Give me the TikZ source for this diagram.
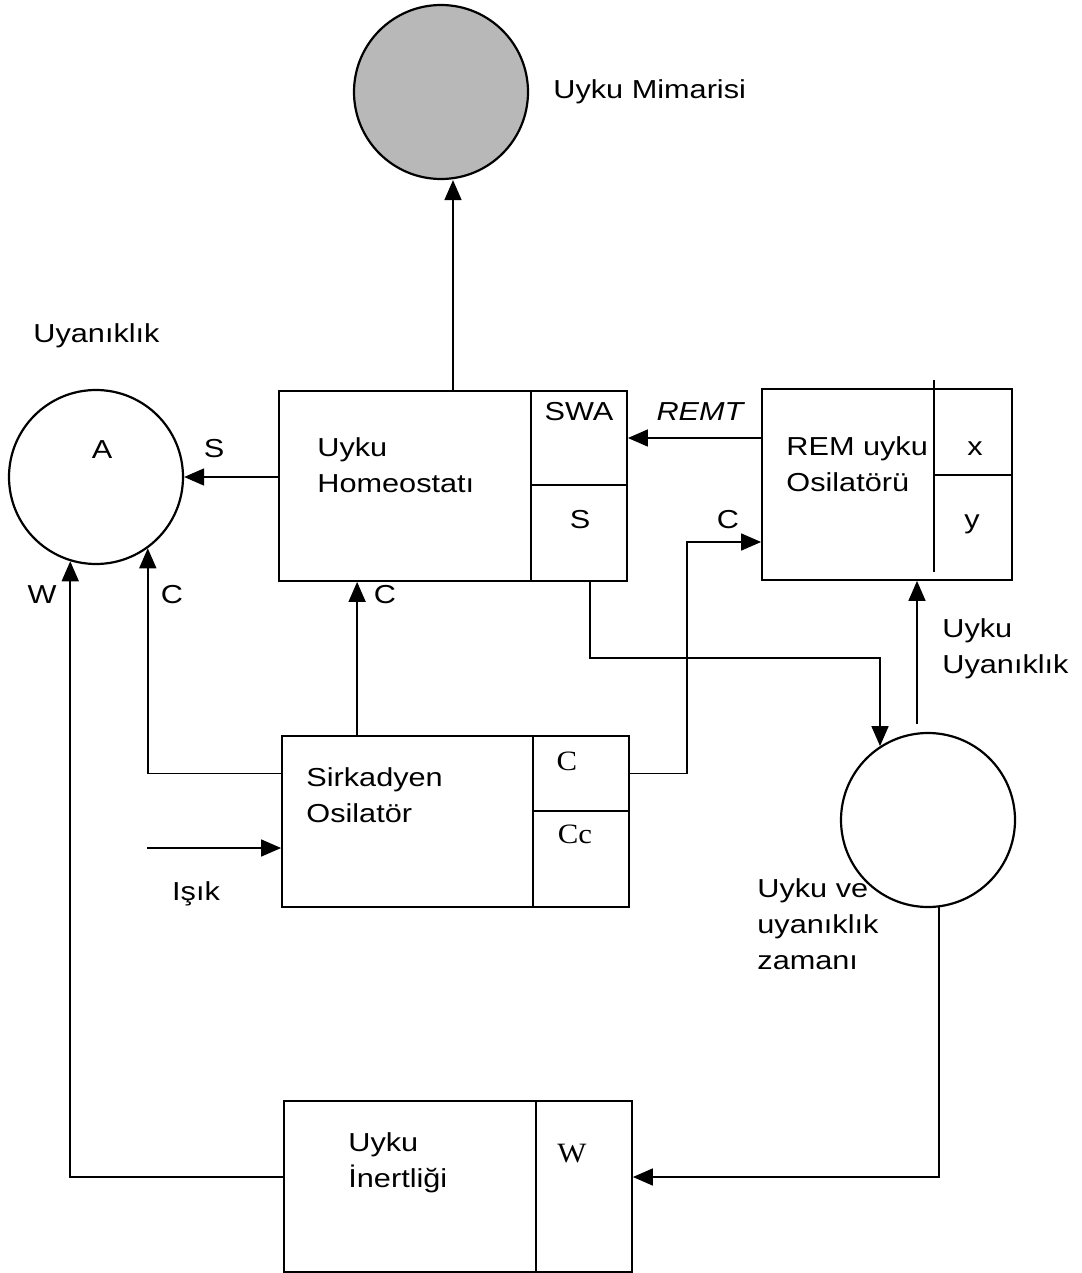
\documentclass[tikz,border=0pt]{standalone}
\usepackage{fontspec}
\setmainfont{Liberation Sans}[FakeStretch=1.18]
\newfontfamily\cellserif{Liberation Serif}[FakeStretch=1.1]
\usetikzlibrary{arrows.meta,calc}
\tikzset{
  blk/.style={draw, line width=0.9pt, inner sep=0pt},
  cell/.style={draw, line width=0.9pt, minimum width=48pt, inner sep=0pt},
  ring/.style={draw, circle, line width=1.1pt, minimum size=87pt, inner sep=0pt},
  arr/.style={-{Triangle[length=10pt,width=8.5pt]}, line width=0.8pt},
  ln/.style={line width=0.9pt},
  txt/.style={inner sep=0pt, align=left, anchor=north west},
  lbl/.style={inner sep=0pt, anchor=base},
  slbl/.style={lbl, font=\cellserif\fontsize{14}{16}\selectfont},
}

\begin{document}
\begin{tikzpicture}[x=0.5pt, y=-0.5pt, font=\fontsize{13}{18}\selectfont]
    \useasboundingbox (0,0) rectangle (1081,1273);
    % circles
    \node[ring, fill=black!28] (mim) at (441,92) {};
    \node[txt] (mimT) at (553,79) {Uyku Mimarisi};
    \node[ring] (A) at (96,477) {};
    \node[lbl] (At) at (102,458) {A};
    \node[txt] (uyT) at (33,323) {Uyanıklık};
    \node[ring] (zaman) at (928,820) {};
    \node[txt] (zamanT) at (757,878) {Uyku ve\\uyanıklık\\zamanı};
    % boxes
    \node[blk, minimum width=174pt, minimum height=95pt] (hom) at (453,486) {};
    \node[cell, minimum height=47pt] (homA) at (579,438) {};
    \node[cell, minimum height=48pt] (homS) at (579,533) {};
    \node[txt] (homT) at (317,437) {Uyku\\Homeostatı};
    \node[lbl] (swaT) at (579,420) {SWA};
    \node[lbl] (homST) at (580,528) {S};
    \node[blk, minimum width=125pt, minimum height=95.5pt] (rem) at (887,484.5) {};
    \draw[ln] (934,380) -- (934,572);
    \draw[ln] (934,475) -- (1012,475);
    \node[txt] (remT) at (786,436) {REM uyku\\Osilatörü};
    \node[lbl] (xT) at (975,455) {x};
    \node[lbl] (yT) at (972,528) {y};
    \node[blk, minimum width=173.5pt, minimum height=85.5pt] (sirk) at (455.5,821.5) {};
    \node[cell, minimum height=37.5pt] (sirkC) at (581,773.5) {};
    \node[cell, minimum height=48pt] (sirkCc) at (581,859) {};
    \node[txt] (sirkT) at (306,767) {Sirkadyen\\Osilatör};
    \node[slbl] (sirkCT) at (567,770) {C};
    \node[slbl] (sirkCcT) at (575,843) {Cc};
    \node[blk, minimum width=174pt, minimum height=85.5pt] (inr) at (458,1186.5) {};
    \node[cell, minimum height=85.5pt] (inrW) at (584,1186.5) {};
    \node[txt] (inrT) at (348,1132) {Uyku\\İnertliği};
    \node[slbl] (inrWT) at (572,1162) {W};
    % connectors
    \draw[arr] (hom.north) -- (mim.south -| hom.north);
    \draw[arr] (hom.west |- A.east) -- (A.east);
    \node[lbl] (sT) at (214,457) {S};
    \coordinate (sc) at ($(sirk.north west)+(76,0)$);
    \draw[arr] (sc) -- (sc |- hom.south);
    \node[lbl] (c1T) at (385,603) {C};
    \draw[arr] (sirk.west |- sirkC) -| (A.-54);
    \node[lbl] (c2T) at (172,603) {C};
    \coordinate (isik) at (147,848);
    \draw[arr] (isik) -- (sirk.west |- isik);
    \node[lbl] (isikT) at (196,900) {Işık};
    \coordinate (cb) at (687,542);
    \draw[arr] (sirkC.east) -| (cb) -- (cb -| rem.west);
    \node[lbl] (c3T) at (728,528) {C};
    \draw[arr] (rem.west |- homA) -- (homA.east);
    \node[lbl, font=\fontsize{13}{18}\selectfont\itshape] (remtT) at (700,420) {REMT};
    \coordinate (sb) at (590,658);
    \draw[arr] (sb |- hom.south) -- (sb) -| (zaman.123);
    \coordinate (zu) at ($(zaman.north)+(-11,-8)$);
    \draw[arr] (zu) -- (zu |- rem.south);
    \node[txt] (uyuT) at (942,618) {Uyku\\Uyanıklık};
    \coordinate (wy) at ($(inr.west)+(0,-9.5)$);
    \draw[arr] (zaman.-83) |- (wy -| inr.east);
    \draw[arr] (wy) -| (A.-107);
    \node[lbl] (wT) at (42,603) {W};
\end{tikzpicture}
\end{document}
